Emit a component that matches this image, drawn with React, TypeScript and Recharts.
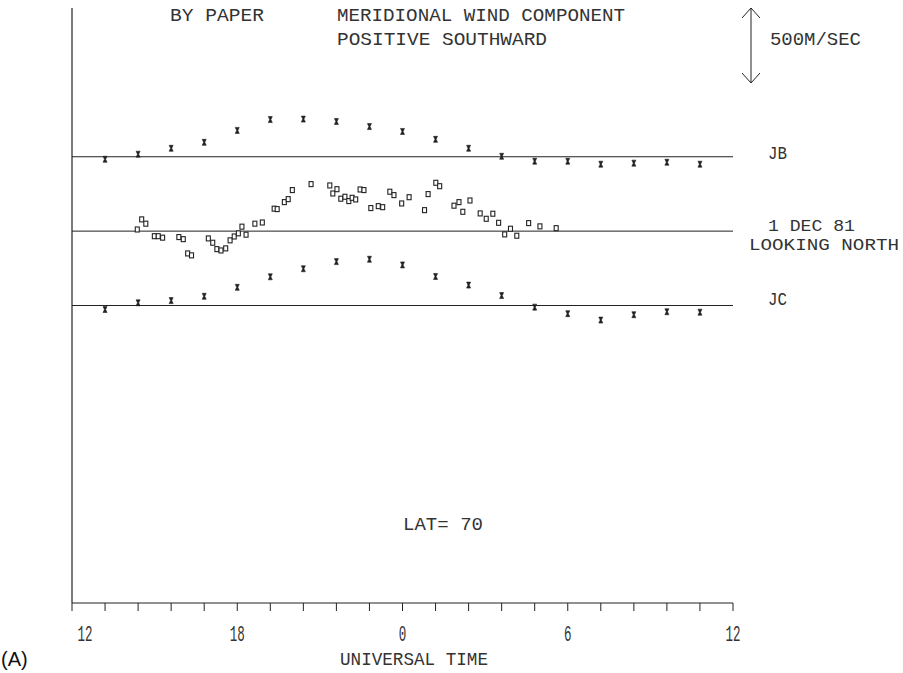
import { ScatterChart, Scatter, XAxis, YAxis, ReferenceLine } from 'recharts'

// hours after 12 UT (0..24), winds in m/s, positive southward
const xTicks = [0, 1.2, 2.4, 3.6, 4.8, 6, 7.2, 8.4, 9.6, 10.8, 12, 13.2, 14.4, 15.6, 16.8, 18, 19.2, 20.4, 21.6, 22.8, 24]
const tickLabels: Record<string, string> = { '0': '12', '6': '18', '12': '0', '18': '6', '24': '12' }

const stationTimes = [1.2, 2.4, 3.6, 4.8, 6, 7.2, 8.4, 9.6, 10.8, 12, 13.2, 14.4, 15.6, 16.8, 18, 19.2, 20.4, 21.6, 22.8]
const jbValues = [-17, 17, 57, 97, 177, 250, 253, 237, 203, 170, 117, 57, 3, -30, -30, -50, -43, -37, -50]
const jcValues = [-27, 18, 33, 62, 122, 193, 247, 295, 311, 273, 195, 137, 67, -11, -55, -98, -62, -42, -45]

const northTimes = [
  2.37, 2.53, 2.68, 2.99, 3.13, 3.29, 3.88, 4.04, 4.2, 4.34, 4.95, 5.11, 5.26, 5.41, 5.58, 5.74,
  5.89, 6.04, 6.17, 6.32, 6.64, 6.91, 7.34, 7.45, 7.71, 7.85, 8.0, 8.68, 9.36, 9.47, 9.62, 9.76,
  9.91, 10.05, 10.17, 10.3, 10.46, 10.6, 10.85, 11.12, 11.28, 11.54, 11.69, 11.97, 12.24, 12.8,
  12.93, 13.21, 13.35, 13.87, 14.05, 14.19, 14.45, 14.82, 15.04, 15.28, 15.49, 15.71, 15.92,
  16.15, 16.58, 16.99, 17.58,
]
const northValues = [
  11, 79, 50, -34, -34, -44, -40, -54, -150, -163, -49, -78, -121, -130, -116, -62,
  -36, -15, 30, -24, 50, 58, 151, 148, 195, 215, 276, 316, 307, 253, 282, 218,
  231, 202, 224, 213, 280, 276, 155, 168, 161, 265, 242, 186, 228, 141,
  249, 325, 302, 171, 195, 130, 206, 119, 83, 117, 56, -22, 16,
  -31, 54, 32, 20,
]

// stacked baselines: JC at 0, north-looking at 500, JB at 1000
const JB_BASE = 1000
const NORTH_BASE = 500
const JC_BASE = 0

const jbData = stationTimes.map((t, i) => ({ t, v: jbValues[i] + JB_BASE }))
const jcData = stationTimes.map((t, i) => ({ t, v: jcValues[i] + JC_BASE }))
const northData = northTimes.map((t, i) => ({ t, v: northValues[i] + NORTH_BASE }))

const INK = '#222'
const TEXT = '#333'
const plotFont = '"Liberation Mono", "DejaVu Sans Mono", monospace'

function StarMark({ cx, cy }: { cx?: number; cy?: number }) {
  if (cx == null || cy == null) return null
  return (
    <path
      d={`M${cx - 2},${cy - 3} h4 l-1.4,3 l1.4,3 h-4 l1.4,-3 z`}
      fill={INK}
      stroke={INK}
      strokeWidth={0.6}
    />
  )
}

function SquareMark({ cx, cy }: { cx?: number; cy?: number }) {
  if (cx == null || cy == null) return null
  return <rect x={cx - 2} y={cy - 2.5} width={4} height={5} fill="#fff" stroke={INK} strokeWidth={1.1} />
}

function TimeTick({ x, y, payload }: { x?: number; y?: number; payload?: { value: number } }) {
  if (x == null || y == null || !payload) return null
  const label = tickLabels[String(payload.value)]
  if (!label) return null
  const shift = payload.value === 0 ? 13 : 0
  const w = label.length * 7.5
  return (
    <text
      x={x + shift - w / 2}
      y={y + 28}
      fontFamily={plotFont}
      fontSize={22}
      fill={TEXT}
      textLength={w}
      lengthAdjust="spacingAndGlyphs"
    >
      {label}
    </text>
  )
}

function PlotText({ x, y, w, size = 19, children }: { x: number; y: number; w: number; size?: number; children: string }) {
  return (
    <text x={x} y={y} fontFamily={plotFont} fontSize={size} fill={TEXT} textLength={w} lengthAdjust="spacingAndGlyphs">
      {children}
    </text>
  )
}

export default function App() {
  return (
    <div style={{ position: 'absolute', left: 0, top: 0, width: 903, height: 673, background: '#fff' }}>
      <ScatterChart width={903} height={673} margin={{ top: 8, right: 170, bottom: 40, left: 72 }}>
        <XAxis
          type="number"
          dataKey="t"
          domain={[0, 24]}
          ticks={xTicks}
          interval={0}
          height={30}
          tickSize={8}
          tick={<TimeTick />}
          axisLine={{ stroke: INK, strokeWidth: 1.2 }}
          tickLine={{ stroke: INK, strokeWidth: 1 }}
          allowDataOverflow
        />
        <YAxis type="number" dataKey="v" domain={[-2000, 2000]} hide width={0} allowDataOverflow />
        <ReferenceLine x={0} stroke={INK} strokeWidth={1.2} />
        <ReferenceLine y={JB_BASE} stroke={INK} strokeWidth={1} />
        <ReferenceLine y={NORTH_BASE} stroke={INK} strokeWidth={1} />
        <ReferenceLine y={JC_BASE} stroke={INK} strokeWidth={1} />
        <Scatter data={jbData} shape={<StarMark />} isAnimationActive={false} />
        <Scatter data={jcData} shape={<StarMark />} isAnimationActive={false} />
        <Scatter data={northData} shape={<SquareMark />} isAnimationActive={false} />
      </ScatterChart>
      <svg
        width={903}
        height={673}
        style={{ position: 'absolute', left: 0, top: 0, pointerEvents: 'none' }}
      >
        <PlotText x={170} y={21} w={94}>BY PAPER</PlotText>
        <PlotText x={337} y={21} w={288}>MERIDIONAL WIND COMPONENT</PlotText>
        <PlotText x={337} y={45} w={210}>POSITIVE SOUTHWARD</PlotText>
        <PlotText x={770} y={45} w={91}>500M/SEC</PlotText>
        <line x1={751} y1={8} x2={751} y2={83} stroke={INK} strokeWidth={1} />
        <polyline points="742,18 751,8 760,18" fill="none" stroke={INK} strokeWidth={1} />
        <polyline points="742,73 751,83 760,73" fill="none" stroke={INK} strokeWidth={1} />
        <PlotText x={768} y={159} w={19}>JB</PlotText>
        <PlotText x={768} y={231} w={87} size={17}>1 DEC 81</PlotText>
        <PlotText x={749} y={250} w={150} size={17}>LOOKING NORTH</PlotText>
        <PlotText x={768} y={305} w={19}>JC</PlotText>
        <PlotText x={403} y={530} w={80}>LAT= 70</PlotText>
        <PlotText x={340} y={665} w={148}>UNIVERSAL TIME</PlotText>
        <text x={1} y={666} fontFamily='"Liberation Sans", Arial, sans-serif' fontSize={20} fill="#111">
          (A)
        </text>
      </svg>
    </div>
  )
}
